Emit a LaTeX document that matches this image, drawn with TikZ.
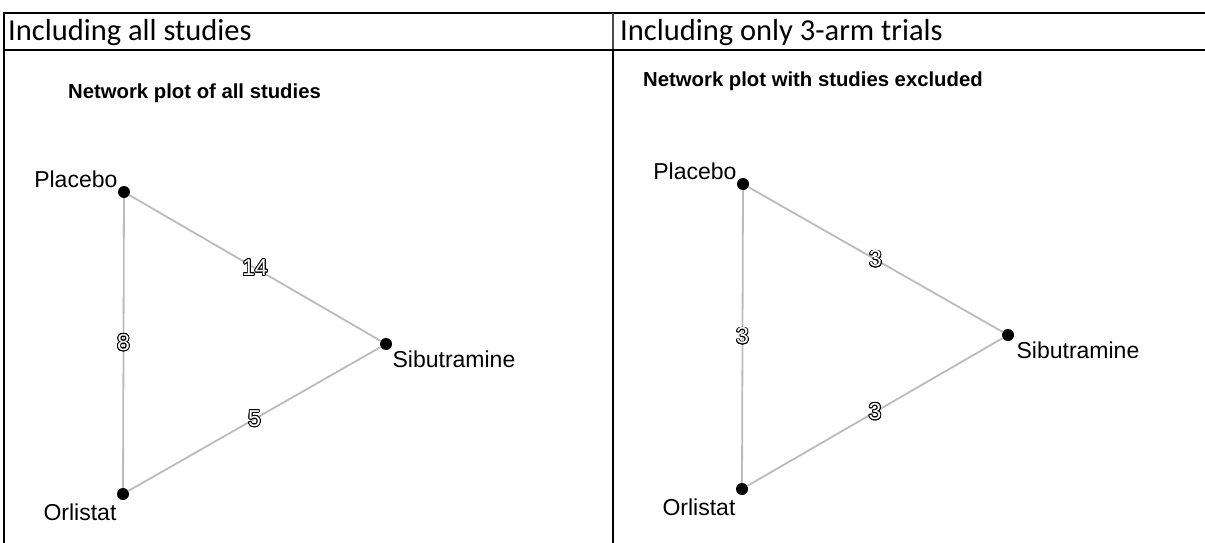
\documentclass[tikz,border=0pt]{standalone}
\usepackage{fontspec}
\setmainfont{Carlito}
\newfontfamily\plotfont{Liberation Sans}
\usepackage{contour}
\contourlength{0.9pt}
\usepackage{tikz}
\usetikzlibrary{positioning}
\definecolor{EdgeGrey}{HTML}{BBBBBB}
\newcommand{\hollow}[1]{\contour{black}{\textcolor{white}{#1}}}

\begin{document}
\begin{tikzpicture}[
  x=1pt, y=-1pt,
  rule/.style={line width=2pt, line cap=rect},
  hdr/.style={font=\fontsize{30.5}{34}\selectfont, anchor=base west, inner sep=0pt},
  ttl/.style={font=\plotfont\bfseries\fontsize{20.3}{24}\selectfont, anchor=base west, inner sep=0pt},
  trt/.style={circle, fill=black, minimum size=12pt, inner sep=0pt},
  lbl/.style={font=\plotfont\fontsize{23}{27}\selectfont, inner sep=0pt},
  edge/.style={draw=EdgeGrey, line width=1.8pt},
  cnt/.style={font=\plotfont\fontsize{23}{27}\selectfont, inner sep=0pt}
]
\useasboundingbox (0,0) rectangle (1205,543);
% table frame
\draw[rule] (4,13) -- (1205,13);
\draw[rule] (4,50) -- (1205,50);
\draw[rule] (4,13) -- (4,543);
\draw[line width=1.2pt, black!70] (613,13) -- (613,50);
\draw[rule] (613,50) -- (613,543);
\node[hdr] (hl) at (8,41) {Including all studies};
\node[hdr] (hr) at (620,41) {Including only 3-arm trials};

% all studies
\node[ttl] (tl) at (68,99) {Network plot of all studies};
\node[trt] (pl) at (124,192) {};
\node[trt] (sib) at (386,344) {};
\node[trt] (orl) at (123,494) {};
\node[lbl, above left=0pt and 2pt of pl] (plt) {Placebo};
\node[lbl, below right=2pt and 2pt of sib] (sibt) {Sibutramine};
\node[lbl, below left=5pt and 2pt of orl] (orlt) {Orlistat};
\draw[edge] (pl) -- node[cnt] {\hollow{14}} (sib);
\draw[edge] (pl) -- node[cnt] {\hollow{8}} (orl);
\draw[edge] (orl) -- node[cnt] {\hollow{5}} (sib);

% 3-arm trials only
\node[ttl] (tr) at (643,87) {Network plot with studies excluded};
\node[trt] (plb) at (743,184) {};
\node[trt] (sibb) at (1008,335) {};
\node[trt] (orlb) at (742,489) {};
\node[lbl, above left=0pt and 2pt of plb] (plbt) {Placebo};
\node[lbl, below right=2pt and 4pt of sibb] (sibbt) {Sibutramine};
\node[lbl, below left=5pt and 2pt of orlb] (orlbt) {Orlistat};
\draw[edge] (plb) -- node[cnt] {\hollow{3}} (sibb);
\draw[edge] (plb) -- node[cnt] {\hollow{3}} (orlb);
\draw[edge] (orlb) -- node[cnt] {\hollow{3}} (sibb);
\end{tikzpicture}
\end{document}
